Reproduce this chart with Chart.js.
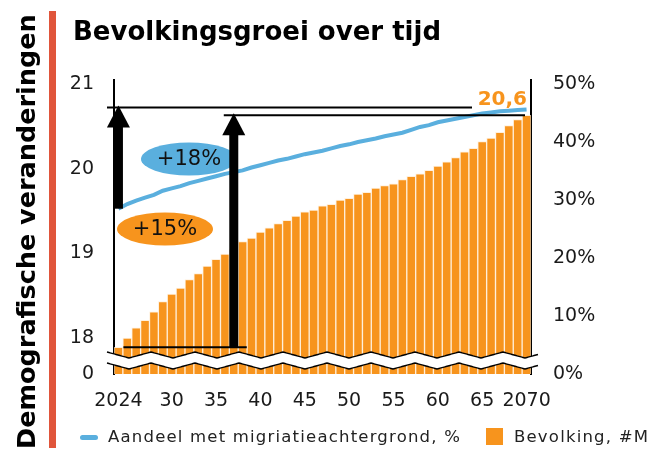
<!DOCTYPE html>
<html>
<head>
<meta charset="utf-8">
<script src="https://cdn.jsdelivr.net/npm/chart.js@4.4.1/dist/chart.umd.min.js"></script>
<style>
  body { margin: 0; background: #fff; }
  #wrap { position: relative; width: 651px; height: 454px; font-family: "DejaVu Sans", sans-serif; }
  #graph { position: absolute; left: 0; top: 0; }
  #sideTitle { position: absolute; left: 11px; top: 449px; width: 440px; height: 30px; line-height: 30px;
    transform-origin: top left; transform: rotate(-90deg); font-weight: bold; font-size: 25.5px; white-space: nowrap; color: #000; }
  #redBar { position: absolute; left: 49px; top: 11px; width: 7px; height: 437px; background: #e0553b; }
  #title { position: absolute; left: 73px; top: 16px; line-height: 30px; font-weight: bold; font-size: 26px; color: #000; white-space: nowrap; }
  #legend { position: absolute; left: 0; top: 427px; width: 651px; height: 20px; font-size: 16.5px; line-height: 20px; color: #222; white-space: nowrap; letter-spacing: 1.2px; }
  #legend span { position: absolute; }
</style>
</head>
<body>
<div id="wrap">
  <canvas id="graph" width="651" height="454"></canvas>
  <div id="sideTitle">Demografische veranderingen</div>
  <div id="redBar"></div>
  <div id="title">Bevolkingsgroei over tijd</div>
  <div id="legend">
    <span style="left:80px;top:8px;width:18px;height:5px;border-radius:3px;background:#5aafde"></span>
    <span style="left:108px;top:0">Aandeel met migriatieachtergrond, %</span>
    <span style="left:486px;top:1px;width:17px;height:17px;background:#f7941d"></span>
    <span style="left:514px;top:0">Bevolking, #M</span>
  </div>
</div>
<script>
const years = [2024, 2025, 2026, 2027, 2028, 2029, 2030, 2031, 2032, 2033, 2034, 2035,
  2036, 2037, 2038, 2039, 2040, 2041, 2042, 2043, 2044, 2045, 2046, 2047,
  2048, 2049, 2050, 2051, 2052, 2053, 2054, 2055, 2056, 2057, 2058, 2059,
  2060, 2061, 2062, 2063, 2064, 2065, 2066, 2067, 2068, 2069, 2070]

// bevolking in miljoenen
const population = [17.89, 18.00, 18.12, 18.21, 18.31, 18.43, 18.52, 18.59, 18.69, 18.76, 18.85, 18.93,
  18.99, 19.05, 19.14, 19.18, 19.25, 19.30, 19.35, 19.39, 19.44, 19.49, 19.51, 19.56,
  19.58, 19.63, 19.65, 19.70, 19.72, 19.77, 19.80, 19.82, 19.87, 19.91, 19.94, 19.98,
  20.03, 20.08, 20.13, 20.20, 20.24, 20.32, 20.36, 20.43, 20.51, 20.58, 20.63]

// aandeel met migratieachtergrond, %
const share = [28.5, 29.3, 29.9, 30.4, 30.9, 31.6, 32.0, 32.4, 32.9, 33.3, 33.7, 34.1,
  34.5, 34.8, 35.1, 35.6, 36.0, 36.4, 36.8, 37.1, 37.5, 37.9, 38.2, 38.5,
  38.9, 39.3, 39.6, 40.0, 40.3, 40.6, 41.0, 41.3, 41.6, 42.1, 42.6, 42.9,
  43.4, 43.7, 44.0, 44.3, 44.6, 44.9, 45.1, 45.3, 45.4, 45.5, 45.6]

const xTickYears = [2024, 2030, 2035, 2040, 2045, 2050, 2055, 2060, 2065, 2070]
const xTickText = ['2024', '30', '35', '40', '45', '50', '55', '60', '65', '2070']
const leftTicks = [18, 19, 20, 21]
const rightTicks = [0, 10, 20, 30, 40, 50]
const shareGrowthLabel = '+18%'
const popGrowthLabel = '+15%'

const orange = '#f7941d'
const blue = '#5aafde'
const leftMin = 17.575
const tickFont = { family: 'DejaVu Sans', size: 19 }

function drawArrow(ctx, x, yBottom, yTip){
    const shaft = 9, headW = 23, headH = 22
    ctx.fillStyle = '#000'
    ctx.fillRect(x - shaft / 2, yTip + headH - 1, shaft, yBottom - yTip - headH + 1)
    ctx.beginPath()
    ctx.moveTo(x, yTip)
    ctx.lineTo(x + headW / 2, yTip + headH)
    ctx.lineTo(x - headW / 2, yTip + headH)
    ctx.closePath()
    ctx.fill()
}

// zigzag voor de asbreuk
function waveY(x, x0, y){
    const amp = 3, period = 44
    const t = ((x - x0) / period) % 1
    const tri = t < 0.5 ? 4 * t - 1 : 3 - 4 * t
    return y + amp * tri
}

function wave(ctx, x0, x1, y, back){
    if(!back){
        for(let x = x0; x <= x1; x++){
            x === x0 ? ctx.moveTo(x, waveY(x, x0, y)) : ctx.lineTo(x, waveY(x, x0, y))
        }
    } else {
        for(let x = x1; x >= x0; x--) ctx.lineTo(x, waveY(x, x0, y))
    }
}

function drawLabel(ctx, cx, cy, text, color){
    ctx.fillStyle = color
    ctx.beginPath()
    ctx.ellipse(cx, cy, 48, 16.5, 0, 0, Math.PI * 2)
    ctx.fill()
    ctx.fillStyle = '#111'
    ctx.font = '21px "DejaVu Sans"'
    ctx.textAlign = 'center'
    ctx.textBaseline = 'middle'
    ctx.fillText(text, cx, cy + 1)
}

const extras = {
    id: 'extras',
    afterDatasetsDraw(chart){
        const ctx = chart.ctx
        const area = chart.chartArea
        const x = chart.scales.x, yl = chart.scales.y, yr = chart.scales.y2
        const last = years.length - 1
        ctx.save()

        // asbreuk
        const x0 = area.left - 7, x1 = area.right + 7
        const yA = area.bottom - 19, yB = area.bottom - 8
        ctx.beginPath()
        wave(ctx, x0, x1, yA, false)
        wave(ctx, x0, x1, yB, true)
        ctx.closePath()
        ctx.fillStyle = '#fff'
        ctx.fill()
        ctx.strokeStyle = '#000'
        ctx.lineWidth = 1.4
        ctx.beginPath(); wave(ctx, x0, x1, yA, false); ctx.stroke()
        ctx.beginPath(); wave(ctx, x0, x1, yB, false); ctx.stroke()

        // hulplijnen
        const xa1 = x.getPixelForValue(0)
        const xa2 = x.getPixelForValue(13)
        const yShareStart = yr.getPixelForValue(share[0])
        const yShareEnd = yr.getPixelForValue(share[last]) - 2
        const yPopStart = yl.getPixelForValue(population[0])
        const yPopEnd = yl.getPixelForValue(population[last])
        ctx.lineWidth = 2
        ctx.beginPath()
        ctx.moveTo(area.left - 7, yShareEnd); ctx.lineTo(472, yShareEnd)
        ctx.moveTo(xa2 - 10, yPopEnd); ctx.lineTo(area.right - 6, yPopEnd)
        ctx.moveTo(xa1 + 5, yPopStart); ctx.lineTo(xa2 + 13, yPopStart)
        ctx.stroke()

        drawLabel(ctx, area.left + 75, area.top + 79, shareGrowthLabel, blue)
        drawLabel(ctx, area.left + 51, area.top + 149, popGrowthLabel, orange)

        drawArrow(ctx, xa1, yShareStart, yShareEnd - 2)
        drawArrow(ctx, xa2, yPopStart, yPopEnd - 2)

        ctx.fillStyle = orange
        ctx.font = 'bold 20px "DejaVu Sans"'
        ctx.textAlign = 'right'
        ctx.textBaseline = 'alphabetic'
        ctx.fillText(population[last].toFixed(1).replace('.', ','), area.right - 4, yPopEnd - 10)
        ctx.restore()
    }
}

const ctx = document.getElementById('graph').getContext('2d')
const myChart = new Chart(ctx, {
    type: 'bar',
    data: {
        labels: years,
        datasets: [
            {
                type: 'line',
                label: 'Aandeel met migriatieachtergrond, %',
                data: share,
                yAxisID: 'y2',
                borderColor: blue,
                borderWidth: 4,
                pointRadius: 0,
                tension: 0,
                order: 0
            },
            {
                label: 'Bevolking, #M',
                data: population,
                yAxisID: 'y',
                backgroundColor: orange,
                borderColor: 'rgba(255,235,210,0.75)',
                borderWidth: 1,
                barPercentage: 1,
                categoryPercentage: 1,
                order: 1
            }
        ]
    },
    options: {
        responsive: false,
        animation: false,
        layout: { padding: { top: 80, left: 0, right: 0, bottom: 0 } },
        plugins: { legend: { display: false }, tooltip: { enabled: false } },
        scales: {
            x: {
                grid: { display: false },
                border: { display: false },
                ticks: {
                    autoSkip: false, maxRotation: 0, padding: 8, font: tickFont, color: '#1a1a1a',
                    callback: (v, i) => {
                        const k = xTickYears.indexOf(years[i])
                        return k >= 0 ? xTickText[k] : ''
                    }
                },
                afterFit: s => { s.height = 80 }
            },
            y: {
                position: 'left',
                min: leftMin,
                max: 21.047,
                grid: { display: false },
                border: { display: true, color: '#000', width: 2 },
                ticks: { padding: 12, font: tickFont, color: '#1a1a1a', callback: v => v === leftMin ? '0' : v },
                afterBuildTicks: s => { s.ticks = [leftMin, ...leftTicks].map(v => ({ value: v })) },
                afterFit: s => { s.width = 114 }
            },
            y2: {
                position: 'right',
                min: 0,
                max: 50.69,
                grid: { display: false },
                border: { display: true, color: '#000', width: 2 },
                ticks: { padding: 14, font: tickFont, color: '#1a1a1a', callback: v => v + '%' },
                afterBuildTicks: s => { s.ticks = rightTicks.map(v => ({ value: v })) },
                afterFit: s => { s.width = 120 }
            }
        }
    },
    plugins: [extras]
})
</script>
</body>
</html>
